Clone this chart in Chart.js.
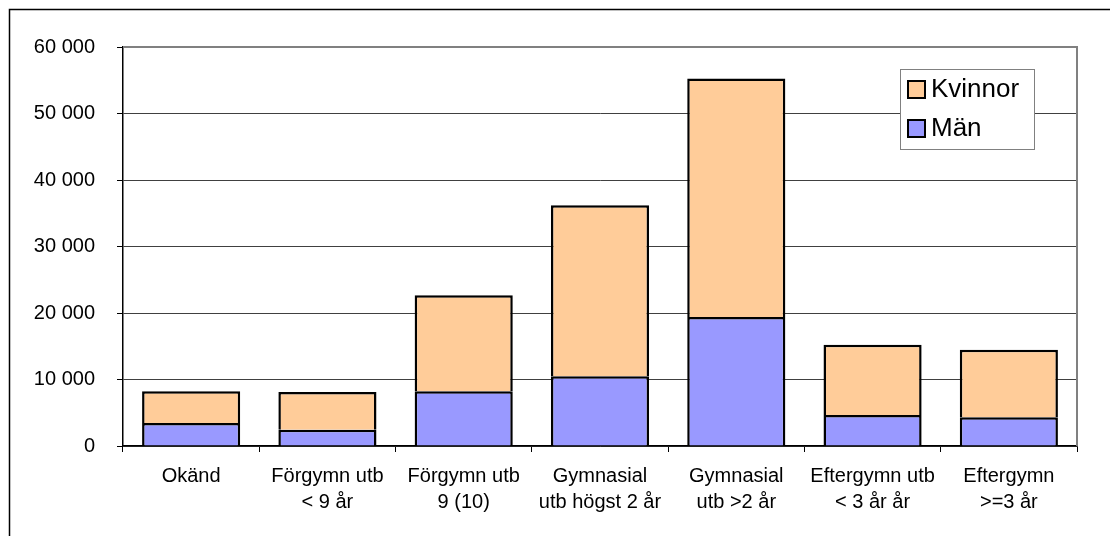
<!DOCTYPE html>
<html>
<head>
<meta charset="utf-8">
<script src="https://cdn.jsdelivr.net/npm/chart.js@4"></script>
<style>
  html, body { margin: 0; padding: 0; background: #fff; }
  #wrap { width: 1110px; height: 536px; }
</style>
</head>
<body>
<div id="wrap"><canvas id="myChart" width="1110" height="536"></canvas></div>
<script>
const categories = [
    'Okänd',
    ['Förgymn utb', '< 9 år'],
    ['Förgymn utb', '9 (10)'],
    ['Gymnasial', 'utb högst 2 år'],
    ['Gymnasial', 'utb >2 år'],
    ['Eftergymn utb', '< 3 år år'],
    ['Eftergymn', '>=3 år']
];
const man = [3460, 2450, 8220, 10480, 19380, 4670, 4310];
const kvinnor = [4760, 5680, 14460, 25710, 35890, 10540, 10150];
const yTicks = [0, 10000, 20000, 30000, 40000, 50000, 60000];

const fmt = v => String(v).replace(/\B(?=(\d{3})+(?!\d))/g, ' ');

// frame round the whole chart and the right edge of the plot area
const framePlugin = {
    id: 'frame',
    beforeDraw(chart) {
        const ctx = chart.ctx;
        ctx.save();
        ctx.strokeStyle = '#000';
        ctx.lineWidth = 1.5;
        ctx.beginPath();
        ctx.moveTo(9.5, 540);
        ctx.lineTo(9.5, 9.5);
        ctx.lineTo(1115, 9.5);
        ctx.stroke();
        ctx.restore();
    },
    afterDraw(chart) {
        const a = chart.chartArea, ctx = chart.ctx;
        ctx.save();
        ctx.strokeStyle = '#808080';
        ctx.lineWidth = 2;
        ctx.beginPath();
        ctx.moveTo(a.left, a.top);
        ctx.lineTo(a.right, a.top);
        ctx.lineTo(a.right, a.bottom);
        ctx.stroke();
        ctx.restore();
    }
};

// legend box inside the plot, Kvinnor on top
const legendPlugin = {
    id: 'boxLegend',
    afterDraw(chart) {
        const ctx = chart.ctx;
        const x = 900, y = 69, w = 134, h = 80;
        ctx.save();
        ctx.fillStyle = '#fff';
        ctx.fillRect(x, y, w, h);
        ctx.strokeStyle = '#808080';
        ctx.lineWidth = 1;
        ctx.strokeRect(x + 0.5, y + 0.5, w, h);
        const items = chart.data.datasets.slice().reverse();
        ctx.font = '26px "Liberation Sans", Arial, sans-serif';
        ctx.textBaseline = 'middle';
        items.forEach((ds, i) => {
            const cy = y + 20 + i * 39;
            ctx.fillStyle = ds.backgroundColor;
            ctx.fillRect(x + 8, cy - 8, 17, 17);
            ctx.strokeStyle = '#000';
            ctx.lineWidth = 2;
            ctx.strokeRect(x + 8, cy - 8, 17, 17);
            ctx.fillStyle = '#000';
            ctx.fillText(ds.label, x + 31, cy + 1);
        });
        ctx.restore();
    }
};

const ctx = document.getElementById('myChart').getContext('2d');
const myChart = new Chart(ctx, {
    type: 'bar',
    data: {
        labels: categories,
        datasets: [{
            label: 'Män',
            data: man,
            backgroundColor: '#9999FF',
            borderColor: '#000',
            borderWidth: 2.5,
            barPercentage: 0.72,
            categoryPercentage: 1
        }, {
            label: 'Kvinnor',
            data: kvinnor,
            backgroundColor: '#FFCC99',
            borderColor: '#000',
            borderWidth: 2.5,
            barPercentage: 0.72,
            categoryPercentage: 1
        }]
    },
    options: {
        responsive: false,
        animation: false,
        devicePixelRatio: 1,
        layout: { padding: { top: 47, right: 33, left: 0, bottom: 0 } },
        plugins: {
            legend: { display: false },
            tooltip: { enabled: false },
            title: { display: false }
        },
        scales: {
            x: {
                stacked: true,
                afterFit: s => { s.height = 90; },
                grid: {
                    offset: true,
                    drawOnChartArea: false,
                    tickLength: 6,
                    tickColor: '#000'
                },
                border: { color: '#000', width: 1.5 },
                ticks: {
                    color: '#000',
                    padding: 12,
                    maxRotation: 0,
                    autoSkip: false,
                    font: { family: '"Liberation Sans", Arial, sans-serif', size: 20, lineHeight: 1.27 }
                }
            },
            y: {
                stacked: true,
                min: 0,
                max: 60000,
                afterFit: s => { s.width = 123; },
                afterBuildTicks: s => { s.ticks = yTicks.map(v => ({ value: v })); },
                grid: {
                    color: '#404040',
                    lineWidth: 1,
                    tickLength: 6,
                    tickColor: '#000'
                },
                border: { color: '#000', width: 1.5 },
                ticks: {
                    color: '#000',
                    padding: 22,
                    callback: v => fmt(v),
                    font: { family: '"Liberation Sans", Arial, sans-serif', size: 20 }
                }
            }
        }
    },
    plugins: [framePlugin, legendPlugin]
});
</script>
</body>
</html>
